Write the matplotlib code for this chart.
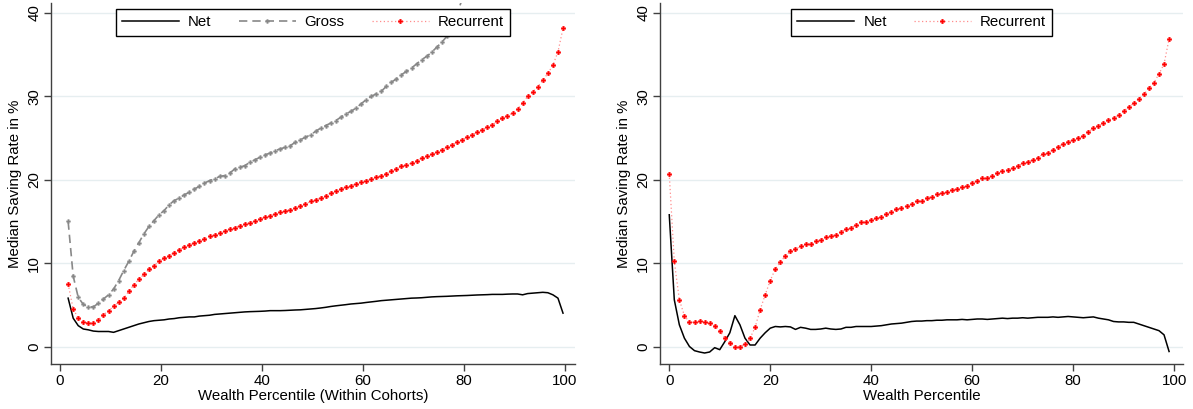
import numpy as np
import matplotlib.pyplot as plt

plt.rcParams['font.family'] = ['Liberation Sans', 'DejaVu Sans']

# Left panel: wealth percentile within cohorts (99 groups)
pct_cohort = np.arange(99) + 1.6

net_cohort = [5.8, 3.4, 2.5, 2.1, 2.0, 1.85, 1.8, 1.8, 1.8, 1.7,
              1.9, 2.1, 2.3, 2.5, 2.7, 2.85, 3.0, 3.1, 3.15, 3.2,
              3.3, 3.35, 3.45, 3.5, 3.55, 3.55, 3.65, 3.7, 3.75, 3.85,
              3.9, 3.95, 4.0, 4.05, 4.1, 4.15, 4.18, 4.2, 4.22, 4.25,
              4.3, 4.3, 4.3, 4.32, 4.35, 4.38, 4.4, 4.45, 4.5, 4.55,
              4.62, 4.7, 4.8, 4.88, 4.95, 5.02, 5.1, 5.15, 5.2, 5.28,
              5.35, 5.42, 5.5, 5.55, 5.6, 5.65, 5.7, 5.75, 5.8, 5.82,
              5.85, 5.9, 5.95, 5.98, 6.0, 6.02, 6.05, 6.08, 6.1, 6.12,
              6.15, 6.18, 6.2, 6.22, 6.25, 6.25, 6.25, 6.28, 6.3, 6.3,
              6.2, 6.35, 6.4, 6.45, 6.5, 6.45, 6.2, 5.8, 4.0]

gross_cohort = [15.0, 8.45, 5.9, 5.05, 4.75, 4.75, 5.2, 5.7, 6.2, 6.9,
                7.9, 9.1, 10.2, 11.4, 12.45, 13.5, 14.4, 15.1, 15.8, 16.3,
                17.0, 17.5, 17.8, 18.2, 18.5, 18.9, 19.2, 19.6, 19.9, 20.1,
                20.4, 20.5, 20.8, 21.3, 21.5, 21.7, 22.1, 22.4, 22.7, 23.0,
                23.2, 23.5, 23.7, 23.9, 24.1, 24.5, 24.8, 25.1, 25.4, 25.8,
                26.2, 26.5, 26.8, 27.1, 27.5, 27.9, 28.2, 28.6, 29.1, 29.6,
                30.0, 30.3, 30.6, 31.2, 31.7, 32.1, 32.6, 33.0, 33.4, 33.9,
                34.4, 34.8, 35.3, 35.9, 36.5, 37.2, 38.4, 39.9, 41.6, 43.4]

rec_cohort = [7.5, 4.5, 3.4, 2.95, 2.8, 2.8, 3.2, 3.8, 4.3, 4.8,
              5.3, 5.8, 6.6, 7.4, 8.05, 8.65, 9.25, 9.7, 10.2, 10.6,
              10.9, 11.25, 11.6, 11.9, 12.2, 12.4, 12.7, 12.9, 13.2, 13.4,
              13.6, 13.85, 14.05, 14.25, 14.5, 14.7, 14.85, 15.1, 15.3, 15.5,
              15.7, 15.9, 16.1, 16.25, 16.4, 16.6, 16.85, 17.1, 17.4, 17.6,
              17.85, 18.1, 18.4, 18.65, 18.9, 19.1, 19.3, 19.5, 19.7, 19.9,
              20.05, 20.3, 20.5, 20.75, 21.0, 21.3, 21.6, 21.8, 22.0, 22.3,
              22.6, 22.8, 23.05, 23.3, 23.6, 23.9, 24.2, 24.5, 24.8, 25.1,
              25.4, 25.7, 26.0, 26.3, 26.6, 27.0, 27.4, 27.7, 28.0, 28.5,
              29.2, 30.0, 30.55, 31.15, 31.95, 32.75, 33.75, 35.35, 38.15]

# Right panel: overall wealth percentile 0..99
pct_all = np.arange(100)

net_all = [15.8, 5.6, 2.6, 1.0, 0.0, -0.5, -0.66, -0.78, -0.66, -0.14,
           -0.38, 0.58, 1.65, 3.7, 2.6, 1.0, 0.18, 0.18, 1.0, 1.65,
           2.2, 2.4, 2.35, 2.4, 2.35, 2.05, 2.3, 2.2, 2.05, 2.05,
           2.1, 2.2, 2.1, 2.05, 2.1, 2.3, 2.3, 2.4, 2.4, 2.4,
           2.4, 2.45, 2.5, 2.6, 2.7, 2.75, 2.8, 2.9, 3.0, 3.05,
           3.05, 3.1, 3.1, 3.15, 3.15, 3.2, 3.2, 3.2, 3.25, 3.2,
           3.25, 3.3, 3.3, 3.25, 3.3, 3.35, 3.4, 3.35, 3.4, 3.4,
           3.45, 3.4, 3.45, 3.5, 3.5, 3.5, 3.55, 3.5, 3.55, 3.6,
           3.55, 3.5, 3.45, 3.5, 3.55, 3.4, 3.3, 3.2, 3.0, 2.95,
           2.95, 2.9, 2.9, 2.7, 2.5, 2.3, 2.1, 1.9, 1.4, -0.6]

rec_all = [20.7, 10.2, 5.6, 3.7, 2.9, 2.9, 3.0, 2.9, 2.8, 2.5,
           1.86, 1.06, 0.46, 0.0, 0.0, 0.3, 0.98, 2.3, 4.4, 6.2,
           7.9, 9.3, 10.1, 10.9, 11.4, 11.7, 12.0, 12.25, 12.3, 12.6,
           12.8, 13.1, 13.3, 13.4, 13.7, 14.1, 14.2, 14.6, 14.9, 14.9,
           15.17, 15.37, 15.57, 15.93, 16.09, 16.45, 16.65, 16.85, 17.09, 17.45,
           17.45, 17.85, 17.97, 18.25, 18.37, 18.57, 18.77, 18.93, 19.09, 19.29,
           19.65, 19.85, 20.17, 20.17, 20.49, 20.77, 21.01, 21.17, 21.45, 21.69,
           21.97, 22.17, 22.37, 22.65, 23.05, 23.25, 23.57, 23.97, 24.29, 24.57,
           24.77, 25.05, 25.25, 25.73, 26.17, 26.45, 26.77, 27.17, 27.37, 27.77,
           28.25, 28.69, 29.17, 29.73, 30.25, 30.97, 31.65, 32.69, 33.89, 36.89]

FS = 10.8
GRID = '#e6eef0'


def style_axes(ax, xlabel, xlim):
    ax.set_xlim(*xlim)
    ax.set_ylim(-2.1, 41.2)
    ax.set_xticks([0, 20, 40, 60, 80, 100])
    ax.set_yticks([0, 10, 20, 30, 40])
    ax.yaxis.grid(True, color=GRID, linewidth=1.0)
    ax.set_axisbelow(True)
    for s in ['top', 'right']:
        ax.spines[s].set_visible(False)
    for s in ['left', 'bottom']:
        ax.spines[s].set_color('#404040')
        ax.spines[s].set_linewidth(1.0)
    ax.tick_params(direction='out', length=5, width=1, color='#404040',
                   labelsize=FS, pad=2)
    plt.setp(ax.get_yticklabels(), rotation=90, va='center')
    ax.set_xlabel(xlabel, fontsize=FS, labelpad=1)
    ax.set_ylabel('Median Saving Rate in %', fontsize=FS, labelpad=4)


fig = plt.figure(figsize=(11.93, 4.09), dpi=100)
ax1 = fig.add_axes([0.0428, 0.110, 0.4392, 0.8826])
ax2 = fig.add_axes([0.5532, 0.110, 0.4386, 0.8826])

rec_style = dict(color='#ff8c8c', lw=0.9, ls=(0, (1, 2)), marker='P', ms=3.4,
                 mec='red', mfc='red', mew=0.2)

# left panel
ax1.plot(pct_cohort, net_cohort, color='black', lw=1.1, label='Net')
ax1.plot(pct_cohort[:len(gross_cohort)], gross_cohort, color='#888888', lw=1.2,
         ls=(0, (5, 3)), marker='P', ms=3.0, mec='#888888', mfc='#888888',
         mew=0.2, label='Gross')
ax1.plot(pct_cohort, rec_cohort, label='Recurrent', **rec_style)
style_axes(ax1, 'Wealth Percentile (Within Cohorts)', (-1.78, 101.98))

# right panel
ax2.plot(pct_all, net_all, color='black', lw=1.1, label='Net')
ax2.plot(pct_all, rec_all, label='Recurrent', **rec_style)
style_axes(ax2, 'Wealth Percentile', (-1.84, 101.8))

for ax in (ax1, ax2):
    leg = ax.legend(loc='upper center', bbox_to_anchor=(0.5, 0.983), ncol=3,
                    fontsize=FS, frameon=True, fancybox=False, framealpha=1,
                    edgecolor='black', handlelength=3.8, handletextpad=0.6,
                    columnspacing=1.8, borderpad=0.42, borderaxespad=0,
                    numpoints=1)
    leg.get_frame().set_linewidth(1.0)

fig.savefig('out.png', dpi=100)
